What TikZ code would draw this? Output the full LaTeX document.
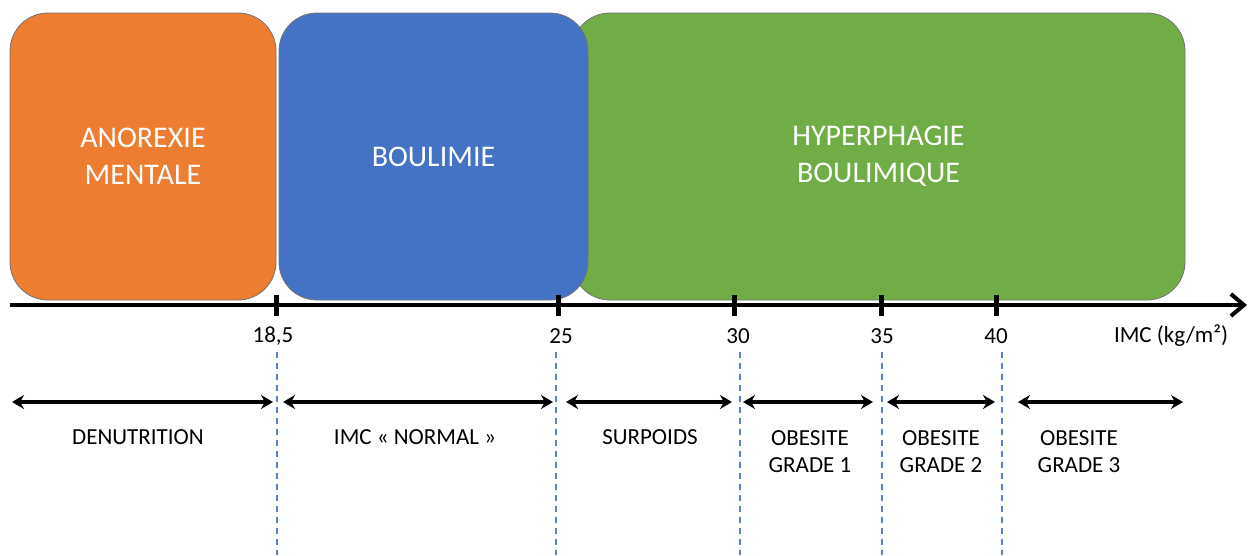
\documentclass[tikz,border=0pt]{standalone}
\usepackage{fontspec}
\setmainfont{Carlito}
\usetikzlibrary{arrows.meta, positioning}
\definecolor{anorexiecol}{HTML}{ED7D31}
\definecolor{boulimiecol}{HTML}{4472C4}
\definecolor{hyperphagiecol}{HTML}{70AD47}
\definecolor{limitecol}{HTML}{5A82C8}
\tikzset{
  zone/.style={draw=black!55, line width=0.8pt, rounded corners=38pt, minimum height=287pt, inner sep=0pt, align=center, text=white, font=\fontsize{30}{37}\selectfont},
  graduation/.style={line width=5pt},
  classe/.style={line width=3.8pt, {Stealth[length=12pt,width=14pt]}-{Stealth[length=12pt,width=14pt]}},
  limite/.style={limitecol, line width=1.2pt, dash pattern=on 6pt off 5pt},
  etiquette/.style={align=center, inner sep=0pt, font=\fontsize{23}{27}\selectfont}
}
\begin{document}
\begin{tikzpicture}[x=1pt, y=-1pt]
            \useasboundingbox (0,0) rectangle (1248,555);
            \node[zone, fill=anorexiecol, minimum width=266pt] (anorexie) at (143,156.5) {ANOREXIE\\MENTALE};
            \node[zone, fill=hyperphagiecol, minimum width=613pt] (hyperphagie) at (878.5,156.5) {HYPERPHAGIE\\BOULIMIQUE};
            \node[zone, fill=boulimiecol, minimum width=309pt] (boulimie) at (433.5,156.5) {BOULIMIE};

            \coordinate (axe-debut) at (10,305);
            \coordinate (axe-fin) at (1247,305);
            \draw[line width=4pt, -{Straight Barb[length=13pt,width=22pt]}] (axe-debut) -- (axe-fin);
            \foreach \x/\lx/\val [count=\i] in {276/273/{18,5}, 558/561/25, 734/738/30, 881/882/35, 996/996/40} {
              \coordinate (grad-haut-\i) at (\x,295);
              \coordinate (grad-bas-\i) at (\x,316);
              \draw[graduation] (grad-haut-\i) -- (grad-bas-\i);
              \node[etiquette] (valeur-\i) at (\lx,336) {\val};
            }
            \node[etiquette] (unite) at (1171,336) {IMC (kg/m²)};

            \foreach \x [count=\i] in {277, 556, 740, 882, 1002} {
              \coordinate (limite-haut-\i) at (\x,352);
              \coordinate (limite-bas-\i) at (\x,555);
              \draw[limite] (limite-haut-\i) -- (limite-bas-\i);
            }

            \foreach \a/\b [count=\i] in {12/273, 283/553, 566/732, 743/873, 887/995, 1018/1183} {
              \coordinate (classe-g-\i) at (\a,402);
              \coordinate (classe-d-\i) at (\b,402);
              \draw[classe] (classe-g-\i) -- (classe-d-\i);
            }
            \node[etiquette] (denutrition) at (138,437) {DENUTRITION};
            \node[etiquette] (normal) at (415,437) {IMC «~NORMAL~»};
            \node[etiquette] (surpoids) at (650,437) {SURPOIDS};
            \node[etiquette] (obesite-1) at (810,452) {OBESITE\\GRADE 1};
            \node[etiquette] (obesite-2) at (941,452) {OBESITE\\GRADE 2};
            \node[etiquette] (obesite-3) at (1079,452) {OBESITE\\GRADE 3};
\end{tikzpicture}
\end{document}
